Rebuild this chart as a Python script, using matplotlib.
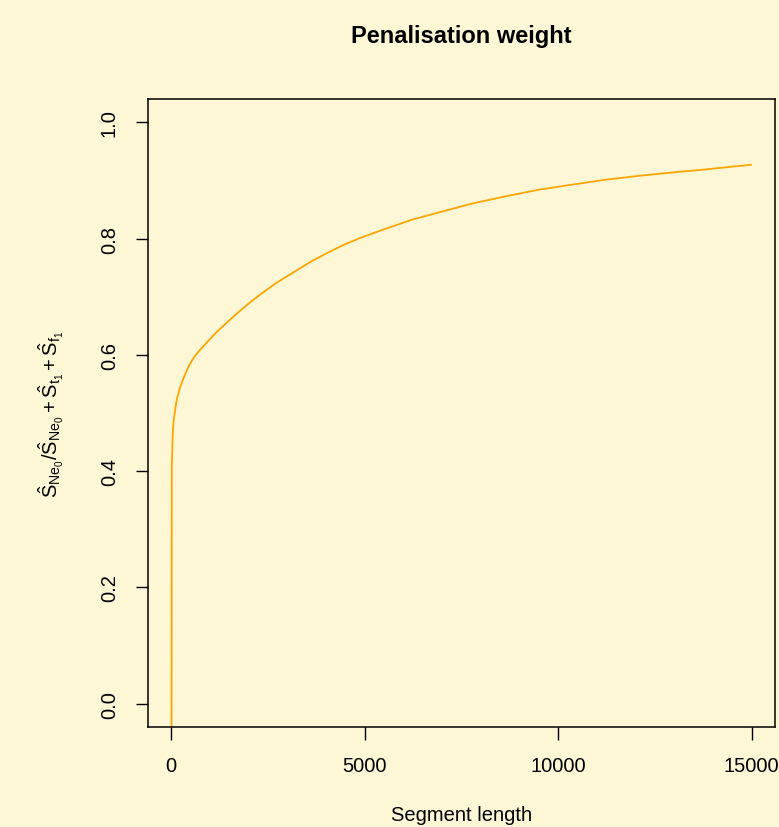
import matplotlib
matplotlib.use("Agg")
import matplotlib.pyplot as plt

# Data
seg_length = [5, 15, 41, 60, 103, 150, 214, 300, 454, 600, 750, 928, 1200,
              1529, 1800, 2089, 2303, 2700, 3161, 3600, 4023, 4450, 4881,
              5483, 6200, 6944, 7800, 8664, 9500, 10382, 11200, 12101,
              13000, 13821, 14400, 15000]
weight = [-0.2, 0.41, 0.467, 0.485, 0.507, 0.525, 0.541, 0.557, 0.581, 0.597,
          0.609, 0.622, 0.641, 0.661, 0.677, 0.693, 0.704, 0.723, 0.742,
          0.760, 0.775, 0.789, 0.801, 0.8155, 0.832, 0.8455, 0.8605, 0.873,
          0.884, 0.893, 0.901, 0.908, 0.914, 0.919, 0.923, 0.927]
x_ticks = [0, 5000, 10000, 15000]
x_tick_labels = ["0", "5000", "10000", "15000"]
y_ticks = [0.0, 0.2, 0.4, 0.6, 0.8, 1.0]
y_tick_labels = ["0.0", "0.2", "0.4", "0.6", "0.8", "1.0"]
title = "Penalisation weight"
x_label = "Segment length"
y_label = r"$\hat{S}_{Ne_0}/\hat{S}_{Ne_0}+\hat{S}_{t_1}+\hat{S}_{f_1}$"

plt.rcParams["font.family"] = ["Liberation Sans", "DejaVu Sans"]
plt.rcParams["mathtext.fontset"] = "custom"
plt.rcParams["mathtext.rm"] = "Liberation Sans"
plt.rcParams["mathtext.it"] = "Liberation Sans"
plt.rcParams["mathtext.bf"] = "Liberation Sans:bold"
plt.rcParams["mathtext.default"] = "regular"

bg = "#FDF7D6"
W, H = 779, 828
fig = plt.figure(figsize=(W / 100, H / 100), dpi=100, facecolor=bg)
L, R, T, B = 148, 775, 100, 728
ax = fig.add_axes([L / W, 1 - B / H, (R - L) / W, (B - T) / H], facecolor=bg)

ax.plot(seg_length, weight, color="#FFA500", lw=1.3,
        solid_capstyle="butt", solid_joinstyle="round", antialiased=True)

ax.set_xlim(-600, 15600)
ax.set_ylim(-0.04, 1.04)
ax.set_xticks(x_ticks)
ax.set_xticklabels(x_tick_labels, fontsize=14.5)
ax.set_yticks(y_ticks)
ax.set_yticklabels(y_tick_labels, fontsize=14.5, rotation=90, va="center")
ax.tick_params(axis="both", direction="out", length=9, width=1.0, color="black", pad=12)
for s in ax.spines.values():
    s.set_linewidth(1.1)
    s.set_color("black")

fig.text((L + R) / 2 / W, 1 - 37 / H, title, ha="center", va="center",
         fontsize=17, fontweight="bold")
fig.text((L + R) / 2 / W, 1 - 806 / H, x_label, ha="center", va="top", fontsize=14.5)
fig.text(51 / W, 1 - (T + B) / 2 / H, y_label, ha="center", va="center",
         rotation=90, fontsize=14.5)

fig.savefig("out.png", dpi=100, facecolor=bg)
